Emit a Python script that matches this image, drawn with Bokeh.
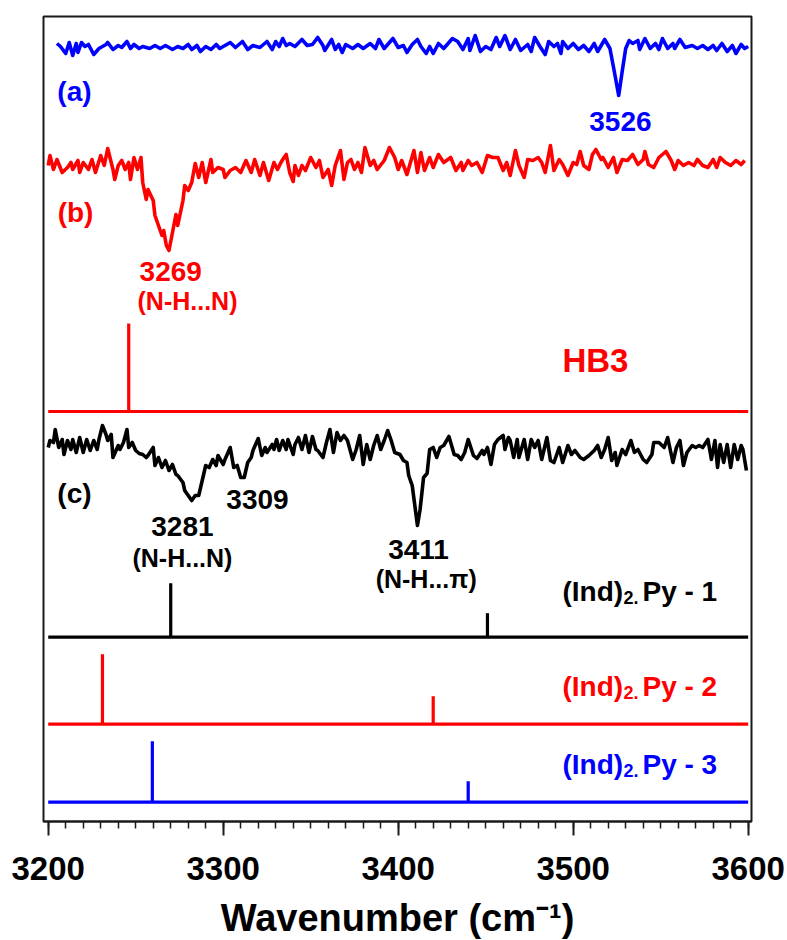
from bokeh.plotting import figure
from bokeh.models import Range1d, SingleIntervalTicker, Label
from bokeh.embed import file_html
from bokeh.resources import INLINE

# ---------------- data ----------------
# (a) blue spectrum: wavenumber (cm-1) and relative signal
wn_a = [3205, 3207, 3210, 3212, 3214, 3216, 3217, 3219, 3221, 3223,
        3226, 3229, 3233, 3234, 3237, 3240, 3242, 3245, 3247, 3249,
        3252, 3254, 3258, 3261, 3264, 3267, 3271, 3274, 3277, 3280,
        3282, 3285, 3287, 3290, 3293, 3296, 3298, 3301, 3304, 3307,
        3311, 3314, 3317, 3321, 3325, 3328, 3330, 3332, 3334, 3336,
        3338, 3341, 3345, 3348, 3351, 3354, 3357, 3358, 3362, 3364,
        3366, 3368, 3370, 3374, 3377, 3380, 3384, 3387, 3389, 3392,
        3394, 3397, 3400, 3403, 3405, 3408, 3411, 3413, 3416, 3418,
        3420, 3423, 3426, 3431, 3434, 3437, 3440, 3441, 3444, 3447,
        3450, 3453, 3456, 3458, 3461, 3464, 3467, 3470, 3474, 3476,
        3478, 3481, 3484, 3486, 3489, 3491, 3493, 3494, 3497, 3500,
        3503, 3506, 3509, 3512, 3514, 3518, 3521, 3523.5, 3526, 3528,
        3530, 3532, 3534, 3537, 3538, 3541, 3544, 3547, 3549, 3551,
        3554, 3557, 3558, 3561, 3564, 3568, 3571, 3574, 3577, 3580,
        3582, 3585, 3588, 3591, 3593, 3596, 3598, 3600]
sig_a = [3, 0, -7, 4, -9, 3, -6, 4, 0, 2,
         -8, -2, 2, 4, -3, 1, -1, 5, -2, 2,
         -2, 0, -2, 1, -2, 1, -3, 0, -2, 2,
         -3, 1, -5, 0, -3, 2, -2, 1, 4, -1,
         5, -3, 1, -1, 5, -3, 5, 0, 8, 1,
         3, 0, 7, 1, 2, 9, 1, -4, 7, -3,
         2, -6, 2, -2, 2, -2, 3, -2, 7, -2,
         2, 8, -1, 1, -6, 2, 7, 0, -7, 0,
         -7, 3, -2, 8, 5, -3, 8, -4, 11, -5,
         0, -3, 9, 0, 11, -3, 7, -4, 2, -5,
         9, 0, -8, 5, 0, 3, -7, 5, -2, 3,
         -3, 1, -5, 3, -5, 7, -2, -25, -49, -25,
         -2, 6, 3, 6, -3, 8, -2, 3, -3, 8,
         -2, 3, -2, 7, -1, 1, -2, 1, -3, 1,
         -4, 3, -5, 1, -7, 2, -2, 0]

# (b) red spectrum
wn_b = [3200, 3201, 3203, 3205, 3208, 3211, 3213, 3214, 3217, 3218,
        3220, 3223, 3225, 3227, 3230, 3232, 3234, 3237, 3238, 3240,
        3242, 3244, 3246, 3247, 3249, 3251, 3253, 3254, 3256, 3257,
        3260, 3261, 3263, 3265, 3266, 3267.5, 3269, 3271, 3273, 3274,
        3277, 3278, 3280, 3282, 3284, 3286, 3288, 3290, 3293, 3294,
        3297, 3300, 3301, 3304, 3307, 3310, 3313, 3316, 3318, 3321,
        3323, 3326, 3329, 3331, 3333, 3334, 3336, 3338, 3340, 3341,
        3343, 3345, 3347, 3350, 3353, 3355, 3357, 3360, 3362, 3364,
        3367, 3369, 3371, 3373, 3375, 3377, 3379, 3381, 3384, 3386,
        3388, 3392, 3395, 3398, 3400, 3402, 3405, 3407, 3409, 3411,
        3413, 3415, 3418, 3420, 3423, 3426, 3430, 3433, 3436, 3437,
        3440, 3442, 3445, 3448, 3451, 3454, 3457, 3460, 3462, 3464,
        3467, 3469, 3472, 3474, 3477, 3480, 3482, 3484, 3487, 3489,
        3492, 3494, 3497, 3500, 3502, 3504, 3506, 3509, 3511, 3513,
        3516, 3517, 3520, 3523, 3525, 3528, 3531, 3534, 3537, 3540,
        3541, 3543, 3546, 3549, 3553, 3556, 3558, 3560, 3563, 3566,
        3569, 3571, 3574, 3577, 3580, 3582, 3584, 3587, 3590, 3593,
        3596, 3598]
sig_b = [2, 12, -2, 8, -5, 0, 5, -2, 7, -5,
         5, -2, 8, -5, 12, 2, 19, -2, -12, 2,
         7, -2, 5, -12, 10, -2, 10, -15, -32, -22,
         -33, -48, -58, -68, -63, -78, -83, -65, -47, -58,
         -33, -18, -23, -15, 4, -10, 5, -15, 8, -5,
         0, -2, -10, -3, 0, -5, 7, -5, 8, -8,
         5, -13, 5, -2, 5, 8, 13, -5, -14, 2,
         -8, 2, -3, 10, 0, 7, -10, -2, -18, 2,
         17, -12, 5, 8, -2, 5, -5, 20, 2, 7,
         -2, 7, 20, 10, -2, 7, -7, 5, 17, -5,
         15, -3, 10, 0, 13, 5, 10, -3, 5, -3,
         7, 2, 5, -5, 12, 10, 10, -3, 5, -8,
         17, 2, -10, 8, 7, 10, 5, -5, 22, -3,
         8, 3, -8, 5, 3, 16, 2, -2, 13, 18,
         8, 10, 0, 10, -5, 8, 7, 13, 3, 8,
         16, 3, 0, 10, 16, 7, -2, 7, 2, 5,
         2, 8, 2, 0, 8, 0, 10, 5, 2, 7,
         3, 7]

# (c) black spectrum
wn_c = [3200, 3201, 3203, 3204, 3206, 3208, 3209, 3211, 3213, 3214,
        3216, 3218, 3220, 3222, 3224, 3226, 3228, 3229, 3231, 3233,
        3234, 3236, 3237, 3240, 3241, 3243, 3245, 3246, 3248, 3250,
        3252, 3254, 3256, 3257, 3260, 3261, 3263, 3265, 3267, 3269,
        3271, 3273, 3274, 3277, 3278, 3280, 3282, 3284, 3286, 3288,
        3290, 3292, 3294, 3296, 3297, 3300, 3301, 3304, 3306, 3308,
        3310, 3312, 3314, 3316, 3317, 3320, 3322, 3324, 3325, 3328,
        3329, 3330.5, 3332, 3334, 3336, 3337, 3340, 3341, 3343, 3345,
        3347, 3349, 3351, 3353, 3354, 3357, 3359, 3361, 3363, 3365,
        3367, 3369, 3371, 3374, 3376, 3378, 3380, 3382, 3384, 3386,
        3388, 3390, 3392, 3394, 3396, 3398, 3401, 3403, 3405, 3406,
        3408, 3409.5, 3411, 3412.5, 3414.5, 3416.5, 3418, 3420, 3422, 3424,
        3426, 3429, 3432, 3434, 3436, 3438, 3440, 3443, 3445, 3448,
        3449, 3451, 3453, 3455, 3457, 3460, 3461, 3463, 3464, 3466,
        3468, 3469, 3472, 3474, 3476, 3478, 3480, 3482, 3485, 3487,
        3489, 3492, 3494, 3497, 3499, 3501, 3504, 3506, 3509, 3512,
        3514, 3516, 3518, 3520, 3522, 3524, 3525, 3528, 3530, 3533,
        3535, 3537, 3540, 3542, 3545, 3546, 3549, 3552, 3554, 3557,
        3559, 3561, 3563, 3565, 3568, 3570, 3572, 3574, 3577, 3579,
        3581, 3582.5, 3584, 3586, 3588, 3590, 3592, 3594, 3596, 3597,
        3599]
sig_c = [-5, 2, 0, 13, -5, 3, -12, 2, -7, 3,
         -10, 5, -10, 3, -8, 2, -7, 3, 17, 8,
         2, 8, -15, -3, -7, 0, 13, -5, 0, -8,
         -11, -12, -15, -13, -5, -23, -15, -25, -18, -28,
         -22, -32, -33, -40, -48, -53, -58, -53, -53, -38,
         -23, -25, -17, -23, -13, -22, -17, -5, -25, -23,
         -35, -35, -20, -15, -8, 4, -13, -5, -10, -2,
         -7, 3, -8, 2, -7, 3, -12, -2, 5, -7,
         7, -10, 6, -7, -8, -15, 0, 13, -10, 10,
         2, 7, 2, -17, -7, 7, -22, -2, -17, -3,
         7, -7, 2, 12, 2, -10, -12, -18, -20, -33,
         -43, -63, -83, -67, -35, -31, -7, -5, -15, -5,
         -3, 6, -12, -13, -17, -10, 3, -13, -16, -8,
         -12, -5, -22, -2, 3, 7, -7, 5, 2, -15,
         3, -15, 3, -17, 3, -5, 2, -17, 5, -18,
         -20, -5, -20, -3, -12, -8, -15, -17, -13, -8,
         -3, -15, -7, 5, -18, -10, -23, -7, -12, 2,
         -10, -7, -17, -20, -12, 0, 0, -5, 5, -20,
         -5, 2, -23, -10, -3, -5, -3, -5, 3, -17,
         2, -25, -2, -20, -2, -25, -2, -17, -3, -7,
         -28]

# calculated stick spectra: frequencies (cm-1) and relative intensities
hb3_wn = [3246]
hb3_int = [88]
py1_wn = [3270, 3451]
py1_int = [54, 24]
py2_wn = [3231, 3420]
py2_int = [70, 28]
py3_wn = [3259.5, 3440]
py3_int = [61, 21]

x_ticks_interval = 100
x_start, x_end = 3200, 3600

# ---------------- figure ----------------
BLUE = "#0000FF"
RED = "#FF0000"
BLACK = "#000000"
FONT = "Liberation Sans"

p = figure(frame_width=708, frame_height=805,
           min_border_left=43, min_border_right=36,
           min_border_top=16, min_border_bottom=119,
           x_range=Range1d(3197.3, 3601.9), y_range=Range1d(0, 805),
           y_axis_location=None,
           output_backend="svg", toolbar_location=None)
p.grid.visible = False
p.background_fill_color = "white"
p.border_fill_color = "white"
p.outline_line_color = "#1a1a1a"
p.outline_line_width = 2

ax = p.xaxis[0]
ax.ticker = SingleIntervalTicker(interval=x_ticks_interval, num_minor_ticks=10)
ax.axis_line_color = "#1a1a1a"
ax.axis_line_width = 2
ax.major_tick_line_width = 2
ax.major_tick_line_color = "#1a1a1a"
ax.minor_tick_line_width = 1.5
ax.minor_tick_line_color = "#1a1a1a"
ax.major_tick_in = 0
ax.major_tick_out = 14
ax.minor_tick_in = 0
ax.minor_tick_out = 7
ax.major_label_text_font = FONT
ax.major_label_text_font_size = "33px"
ax.major_label_text_font_style = "bold"
ax.major_label_text_color = BLACK
ax.major_label_standoff = 21
ax.axis_label = "Wavenumber (cm\u207b\u00b9)"
ax.axis_label_text_font = FONT
ax.axis_label_text_font_size = "38px"
ax.axis_label_text_font_style = "bold"
ax.axis_label_text_color = BLACK
ax.axis_label_standoff = 14

# offsets of the stacked traces (plot units)
off_a, off_b, off_c = 775, 654, 379
base_hb3, base_py1, base_py2, base_py3 = 410, 184.3, 97.3, 19.3

p.line(wn_a, [off_a + v for v in sig_a], line_color=BLUE, line_width=3.6, line_join="round")
p.line(wn_b, [off_b + v for v in sig_b], line_color=RED, line_width=3.6, line_join="round")
p.line(wn_c, [off_c + v for v in sig_c], line_color=BLACK, line_width=3.6, line_join="round")


def sticks(wn, inten, base, color):
    p.segment(x0=[x_start], y0=[base], x1=[x_end], y1=[base], line_color=color, line_width=3.2)
    p.segment(x0=wn, y0=[base] * len(wn), x1=wn, y1=[base + v for v in inten],
              line_color=color, line_width=3.2)


sticks(hb3_wn, hb3_int, base_hb3, RED)
sticks(py1_wn, py1_int, base_py1, BLACK)
sticks(py2_wn, py2_int, base_py2, RED)
sticks(py3_wn, py3_int, base_py3, BLUE)

DY = 11  # baseline correction for label placement


def lab(text, x, y, color, size, align="center"):
    p.add_layout(Label(x=x, y=y + DY, text=text, text_color=color, text_font=FONT,
                       text_font_size=f"{size}px", text_font_style="bold",
                       text_align=align, text_baseline="alphabetic"))


lab("(a)", 3215, 719, BLUE, 28)
lab("3526", 3527, 689, BLUE, 28)
lab("(b)", 3215.6, 598, RED, 28)
lab("3269", 3270, 539, RED, 28)
lab("(N-H...N)", 3279.6, 510, RED, 25)
lab("HB3", 3512.7, 450, RED, 33)
lab("(c)", 3215, 317, BLACK, 28)
lab("3309", 3319.6, 311, BLACK, 28)
lab("3281", 3276.7, 284, BLACK, 28)
lab("(N-H...N)", 3276.7, 253, BLACK, 25)
lab("3411", 3411.6, 261, BLACK, 28)
lab("(N-H...\u03c0)", 3416, 232, BLACK, 25)


def ind_py(num, y, color):
    x0 = 3493.9
    lab("(Ind)", x0, y, color, 28, "left")
    lab("2.", x0 + 34.9, y - 6, color, 18, "left")
    lab(f"Py - {num}", x0 + 45.7, y, color, 28, "left")


ind_py(1, 219.3, BLACK)
ind_py(2, 124.3, RED)
ind_py(3, 46, BLUE)

open("out.html", "w").write(file_html(p, INLINE))
